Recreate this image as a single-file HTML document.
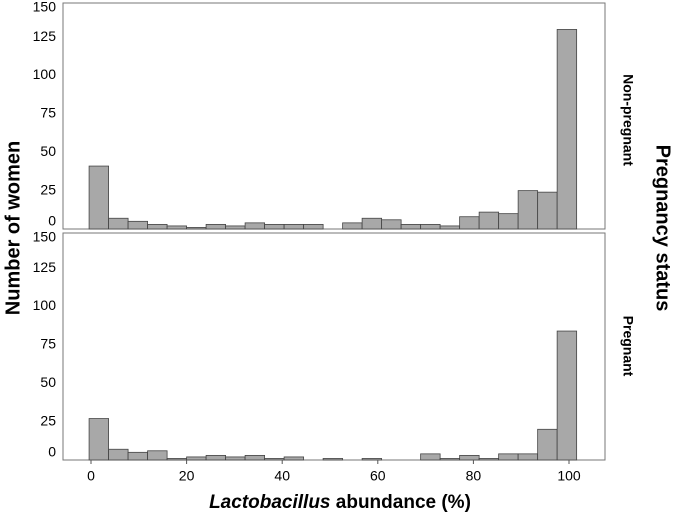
<!DOCTYPE html>
<html><head><meta charset="utf-8"><style>
body{margin:0;background:#fff;}
svg{display:block;font-family:"Liberation Sans",sans-serif;}
</style></head><body>
<svg id="chart" width="675" height="515">
<g id="top"></g>
<g id="bot"></g>
<g id="xaxis"></g>
<text x="14" y="228" transform="rotate(-90 14 228)" text-anchor="middle" font-size="20" font-weight="bold" dominant-baseline="middle">Number of women</text>
<text x="662" y="228" transform="rotate(90 662 228)" text-anchor="middle" font-size="20" font-weight="bold" dominant-baseline="middle">Pregnancy status</text>
<text x="627" y="120" transform="rotate(90 627 120)" text-anchor="middle" font-size="14" font-weight="bold" dominant-baseline="middle">Non-pregnant</text>
<text x="627" y="346" transform="rotate(90 627 346)" text-anchor="middle" font-size="14" font-weight="bold" dominant-baseline="middle">Pregnant</text>
<text x="340" y="508" text-anchor="middle" font-size="19" font-weight="bold"><tspan font-style="italic">Lactobacillus</tspan> abundance (%)</text>
</svg>
<script>
const binStart = -0.4;
const binWidth = 4.08;
const nonPregnant = [41,7,5,3,2,1,3,2,4,3,3,3,0,4,7,6,3,3,2,8,11,10,25,24,130];
const pregnant = [27,7,5,6,1,2,3,2,3,1,2,0,1,0,1,0,0,4,1,3,1,4,4,20,84];
const yTicks = [0,25,50,75,100,125,150];
const xTicks = [0,20,40,60,80,100];
const NS='http://www.w3.org/2000/svg';
const L=63,R=605;
const xs=v=>91+v*4.78;
function el(tag,attrs,parent){const e=document.createElementNS(NS,tag);for(const k in attrs)e.setAttribute(k,attrs[k]);parent.appendChild(e);return e;}
function panel(g,top,base,data,name){
  const ys=v=>base-v*1.535;
  const box=el('rect',{x:L,y:top,width:R-L,height:base-top,fill:'none',stroke:'#777','stroke-width':1},g);
  
  
  data.forEach((v,i)=>{
    if(v<=0)return;
    const x0=xs(binStart+i*binWidth),x1=xs(binStart+(i+1)*binWidth);
    const r=el('rect',{x:x0,y:ys(v),width:x1-x0,height:base-ys(v),fill:'#a8a8a8',stroke:'#444','stroke-width':0.8},g);
    
    
  });
  yTicks.forEach((t,i)=>{
    let y=ys(t);
    if(i===0)y=base-7; if(y<top+5)y=top+5;
    const tx=el('text',{x:56,y:y,'text-anchor':'end','dominant-baseline':'middle','font-size':14},g);
    tx.textContent=t;
    
    
  });
}
panel(document.getElementById('top'),3,229,nonPregnant,'non-pregnant');
panel(document.getElementById('bot'),233,460,pregnant,'pregnant');
const xg=document.getElementById('xaxis');
xTicks.forEach(t=>{
  const tk=el('line',{x1:xs(t),x2:xs(t),y1:460,y2:464,stroke:'#555'},xg);
  
  
  const tx=el('text',{x:xs(t),y:477,'text-anchor':'middle','dominant-baseline':'middle','font-size':14},xg);
  tx.textContent=t;
  
  
});
</script>
</body></html>
